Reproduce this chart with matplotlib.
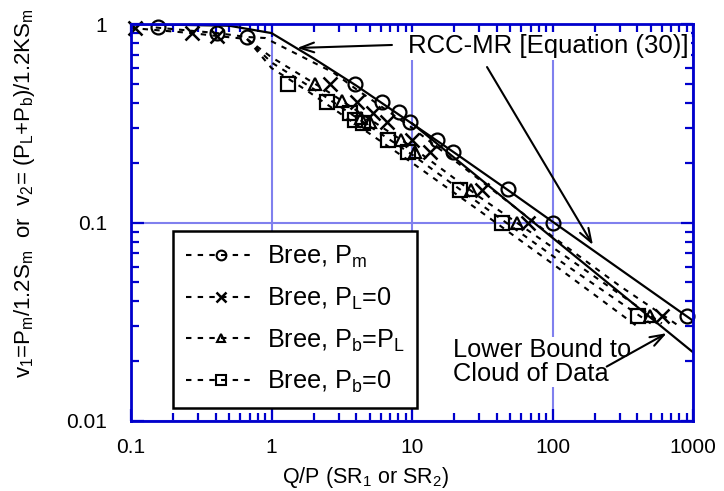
import matplotlib
matplotlib.use('Agg')
import matplotlib.pyplot as plt
from matplotlib.lines import Line2D
from matplotlib.ticker import FixedLocator, FixedFormatter, LogLocator, NullFormatter

plt.rcParams['font.family'] = ['Liberation Sans', 'DejaVu Sans']
plt.rcParams['mathtext.fontset'] = 'custom'
plt.rcParams['mathtext.rm'] = 'Liberation Sans'
plt.rcParams['mathtext.it'] = 'Liberation Sans:italic'
plt.rcParams['mathtext.bf'] = 'Liberation Sans:bold'

# ---------------- data ----------------
rcc_x = [0.1, 0.5, 1, 2, 4, 10, 20, 50, 100, 1000]
rcc_y = [1.0, 0.98, 0.90, 0.67, 0.49, 0.315, 0.225, 0.143, 0.101, 0.032]
lower_x = [10, 1000]
lower_y = [0.316, 0.0222]

# markers
pm_x = [0.156, 0.41, 0.67, 3.9, 6.1, 8.1, 9.7, 15, 19.5, 48, 101, 906]
pm_y = [0.966, 0.90, 0.86, 0.50, 0.405, 0.36, 0.32, 0.26, 0.226, 0.147, 0.10, 0.0338]
pl0_x = [0.107, 0.27, 0.41, 2.6, 4.05, 5.3, 6.6, 10, 13.4, 31.6, 67, 603]
pl0_y = [0.955, 0.90, 0.87, 0.50, 0.405, 0.356, 0.32, 0.26, 0.226, 0.146, 0.099, 0.034]
pbpl_x = [2.04, 3.2, 4.3, 5.0, 8.4, 10.5, 26.5, 56, 494]
pbpl_y = [0.50, 0.41, 0.336, 0.32, 0.26, 0.226, 0.146, 0.099, 0.034]
pb0_x = [1.31, 2.5, 3.6, 3.9, 4.47, 6.7, 9.3, 22, 44, 408]
pb0_y = [0.50, 0.405, 0.356, 0.33, 0.317, 0.26, 0.226, 0.146, 0.099, 0.034]

# dashed Bree curves
pm_cx = [0.15, 0.41, 0.67, 0.9, 2.75, 4, 10, 30, 100, 300, 800]
pm_cy = [0.96, 0.90, 0.86, 0.85, 0.57, 0.47, 0.30, 0.165, 0.085, 0.048, 0.030]
pl0_cx = [0.1, 0.27, 0.41, 0.67, 1.0, 2.6, 10, 30, 100, 600]
pl0_cy = [0.955, 0.90, 0.87, 0.84, 0.68, 0.45, 0.24, 0.135, 0.075, 0.031]
pbpl_cx = [0.67, 1.0, 2.0, 10, 30, 100, 500]
pbpl_cy = [0.84, 0.64, 0.47, 0.22, 0.125, 0.068, 0.031]
pb0_cx = [0.67, 1.0, 1.8, 10, 30, 100, 400]
pb0_cy = [0.84, 0.60, 0.46, 0.20, 0.115, 0.062, 0.030]

x_ticks = [0.1, 1, 10, 100, 1000]
x_ticklabels = ['0.1', '1', '10', '100', '1000']
y_ticks = [0.01, 0.1, 1]
y_ticklabels = ['0.01', '0.1', '1']

labels = [r'Bree, P$_\mathrm{m}$', r'Bree, P$_\mathrm{L}$=0',
          r'Bree, P$_\mathrm{b}$=P$_\mathrm{L}$', r'Bree, P$_\mathrm{b}$=0']

# ---------------- figure ----------------
blue = '#0000CC'
gridc = '#8080EE'
fig = plt.figure(figsize=(7.24, 4.91), dpi=100)
ax = fig.add_axes([131/724, 70/491, 562/724, 397/491])
ax.set_xscale('log')
ax.set_yscale('log')
ax.set_xlim(0.1, 1000)
ax.set_ylim(0.01, 1)

for s in ax.spines.values():
    s.set_color(blue)
    s.set_linewidth(2.0)
    s.set_zorder(6)

ax.xaxis.set_major_locator(FixedLocator(x_ticks))
ax.xaxis.set_major_formatter(FixedFormatter(x_ticklabels))
ax.yaxis.set_major_locator(FixedLocator(y_ticks))
ax.yaxis.set_major_formatter(FixedFormatter(y_ticklabels))
ax.xaxis.set_minor_locator(LogLocator(base=10, subs=range(2, 10), numticks=20))
ax.yaxis.set_minor_locator(LogLocator(base=10, subs=range(2, 10), numticks=20))
ax.xaxis.set_minor_formatter(NullFormatter())
ax.yaxis.set_minor_formatter(NullFormatter())
ax.tick_params(which='both', direction='in', top=True, right=True, color=blue,
               width=1.6, labelsize=15)
ax.tick_params(which='major', length=9)
ax.tick_params(which='minor', length=6)
ax.tick_params(axis='x', which='major', pad=12)
ax.tick_params(axis='y', which='major', pad=17)
ax.grid(True, which='major', color=gridc, linewidth=1.5, zorder=0)
ax.set_axisbelow(True)

dash = (0, (2.6, 3.0))
# dashed curves
for cx, cy in [(pm_cx, pm_cy), (pl0_cx, pl0_cy), (pbpl_cx, pbpl_cy), (pb0_cx, pb0_cy)]:
    ax.plot(cx, cy, color='k', lw=1.5, ls=dash, zorder=3)

# solid lines
ax.plot(rcc_x, rcc_y, color='k', lw=1.6, zorder=4)
ax.plot(lower_x, lower_y, color='k', lw=1.6, zorder=4)

# markers
mk = dict(ls='none', color='k', mfc='none', mew=1.6, zorder=5, clip_on=False)
ax.plot(pm_x, pm_y, marker='o', ms=10, **mk)
ax.plot(pl0_x, pl0_y, marker='x', ms=10, **dict(mk, mew=1.8))
ax.plot(pbpl_x, pbpl_y, marker='^', ms=9, **mk)
ax.plot(pb0_x, pb0_y, marker='s', ms=9.5, **mk)

# annotations
ax.text(9.37, 0.775, 'RCC-MR [Equation (30)]', fontsize=18.5, ha='left', va='center',
        zorder=4.5, bbox=dict(facecolor='white', edgecolor='none', pad=1.5))
arw = dict(arrowstyle='->,head_length=1.0,head_width=0.35', color='k', lw=1.5,
           shrinkA=0, shrinkB=0)
ax.annotate('', xy=(1.52, 0.757), xytext=(7.2, 0.784), arrowprops=arw, zorder=7)
ax.annotate('', xy=(194, 0.077), xytext=(34.2, 0.607), arrowprops=arw, zorder=7)

ax.text(19.6, 0.0198, 'Lower Bound to\nCloud of Data', fontsize=18.3, ha='left',
        va='center', linespacing=1.0, zorder=4.5,
        bbox=dict(facecolor='white', edgecolor='none', pad=0.5))
ax.annotate('', xy=(650, 0.0277), xytext=(243, 0.0188), arrowprops=arw, zorder=7)

# legend
handles = [
    Line2D([], [], color='k', lw=1.5, ls=dash, marker='o', ms=7, mfc='none', mew=1.5),
    Line2D([], [], color='k', lw=1.5, ls=dash, marker='x', ms=7, mfc='none', mew=1.8),
    Line2D([], [], color='k', lw=1.5, ls=dash, marker='^', ms=6, mfc='none', mew=1.5),
    Line2D([], [], color='k', lw=1.5, ls=dash, marker='s', ms=7, mfc='none', mew=1.5),
]
leg = ax.legend(handles, labels, loc='lower left', bbox_to_anchor=(0.0747, 0.0327),
                fontsize=18.2, frameon=True, fancybox=False, framealpha=1,
                edgecolor='k', handlelength=2.8, handletextpad=0.4,
                labelspacing=0.62, borderpad=0.5, borderaxespad=0, numpoints=1)
leg.get_frame().set_linewidth(1.8)
leg.set_zorder(8)

# axis labels
fig.text(366/724, 1 - 478/491, r'Q/P (SR$_\mathrm{1}$ or SR$_\mathrm{2}$)', fontsize=15.5,
         ha='center', va='center')
fig.text(25/724, 1 - 193/491,
         r'v$_\mathrm{1}$=P$_\mathrm{m}$/1.2S$_\mathrm{m}$  or  v$_\mathrm{2}$= (P$_\mathrm{L}$+P$_\mathrm{b}$)/1.2KS$_\mathrm{m}$',
         fontsize=16, ha='center', va='center', rotation=90)

fig.savefig('out.png', dpi=100)
